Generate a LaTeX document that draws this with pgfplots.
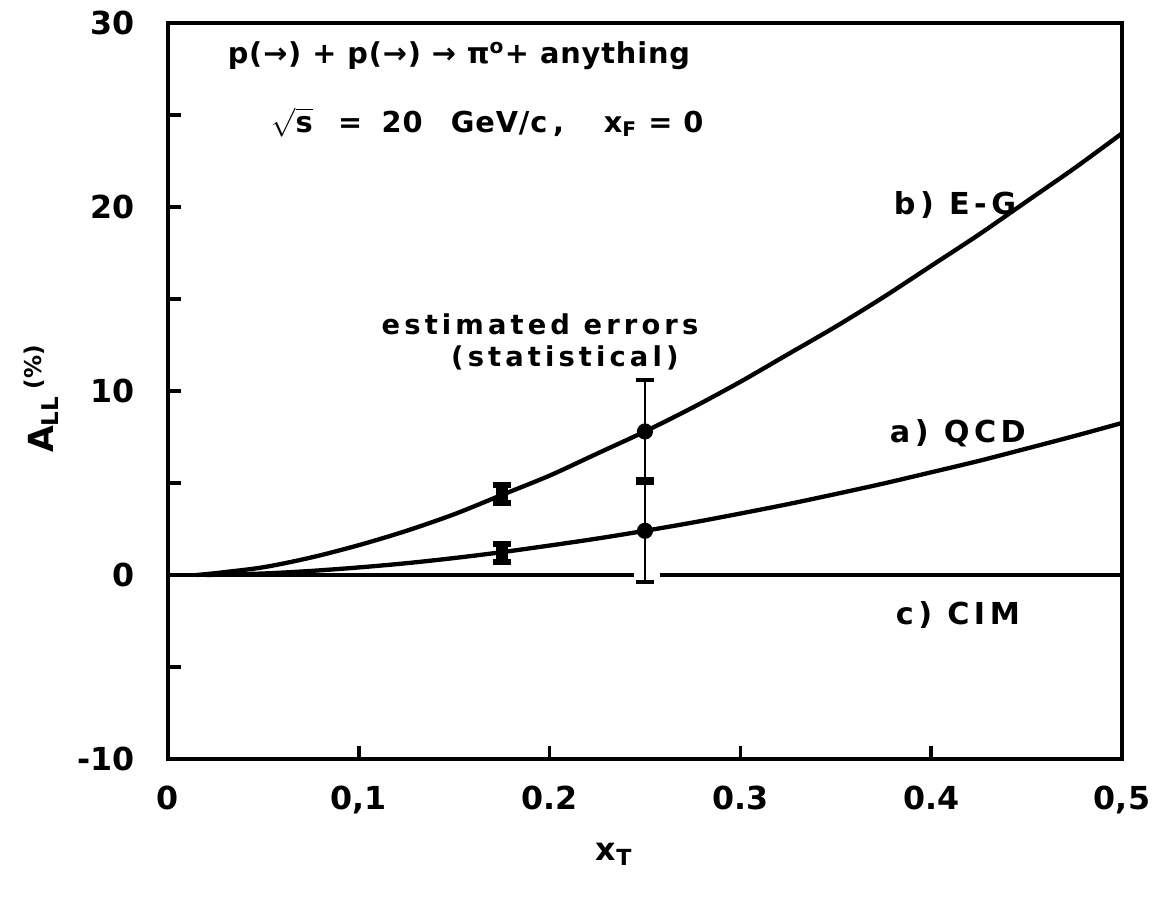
\documentclass[border=0pt]{standalone}
\usepackage{fontspec}
\setmainfont{DejaVu Sans}
\newfontfamily\lbl[LetterSpace=15]{DejaVu Sans}
\newfontfamily\lbltight[LetterSpace=3]{DejaVu Sans}
\usepackage{pgfplots}
\pgfplotsset{compat=1.18}

\begin{document}
\begin{tikzpicture}
\begin{axis}[
    scale only axis,
    width=331.25pt, height=255.56pt,
    xmin=0, xmax=0.5,
    ymin=-10, ymax=30,
    axis line style={line width=1.6pt},
    xtick={0,0.1,0.2,0.3,0.4,0.5},
    xticklabels={0,{0,1},0.2,0.3,0.4,{0,5}},
    ytick={-10,-5,0,5,10,15,20,25,30},
    yticklabels={-10,,0,,10,,20,,30},
    tick align=inside,
    xtick pos=bottom, ytick pos=left,
    major tick length=4.5pt,
    tick style={line width=1.2pt, black},
    ticklabel style={font=\bfseries\fontsize{11}{13}\selectfont},
    xticklabel style={yshift=-6pt},
    yticklabel style={xshift=-8pt},
    clip=false,
]

% b) E-G
\addplot[line width=1.5pt, smooth] coordinates {
  (0.015,0)(0.025,0.1)(0.05,0.42)(0.075,0.95)(0.1,1.62)(0.125,2.4)
  (0.15,3.3)(0.175,4.35)(0.2,5.4)(0.225,6.6)(0.25,7.8)(0.275,9.1)
  (0.3,10.5)(0.325,12.0)(0.35,13.5)(0.375,15.1)(0.4,16.8)(0.425,18.5)
  (0.45,20.3)(0.475,22.1)(0.5,24.0)
};

% a) QCD
\addplot[line width=1.5pt, smooth] coordinates {
  (0.02,0)(0.05,0.08)(0.075,0.22)(0.1,0.41)(0.125,0.64)(0.15,0.92)
  (0.175,1.24)(0.2,1.6)(0.225,1.98)(0.25,2.4)(0.275,2.85)(0.3,3.34)
  (0.325,3.85)(0.35,4.4)(0.375,4.97)(0.4,5.58)(0.425,6.2)(0.45,6.87)
  (0.475,7.55)(0.5,8.26)
};

% c) CIM
\addplot[line width=1.5pt] coordinates {(0,0)(0.244,0)};
\addplot[line width=1.5pt] coordinates {(0.258,0)(0.5,0)};

% estimated errors
\addplot[only marks, mark=*, mark size=2.6pt,
  error bars/.cd, y dir=both, y explicit,
  error bar style={line width=1pt},
  error mark options={rotate=90, mark size=3.2pt, line width=1.5pt}]
  coordinates {(0.25,7.8) +- (0,2.8) (0.25,2.4) +- (0,2.8)};

\addplot[only marks, mark=square*, mark size=2pt,
  error bars/.cd, y dir=both, y explicit,
  error bar style={line width=3pt},
  error mark options={rotate=90, mark size=3pt, line width=2pt}]
  coordinates {(0.175,4.4) +- (0,0.5) (0.175,1.2) +- (0,0.5)};

\node[anchor=west, font=\lbltight\bfseries\fontsize{10}{12}\selectfont] at (axis cs:0.026,28.2)
  {p(→) + p(→) → π\textsuperscript{o}+ anything};
\node[anchor=west, font=\lbltight\bfseries\fontsize{10}{12}\selectfont] at (axis cs:0.049,24.6)
  {$\sqrt{\mbox{s}}$\hspace{5pt} =\hspace{3pt} 20\hspace{6pt} GeV/c\hspace{2pt},\hspace{10pt} x\textsubscript{F} = 0};
\node[font=\lbl\bfseries\fontsize{10.5}{13}\selectfont] at (axis cs:0.4125,20.1) {b) E-G};
\node[font=\lbl\bfseries\fontsize{9.5}{11}\selectfont] at (axis cs:0.195,13.6) {estimated errors};
\node[font=\lbl\bfseries\fontsize{9.5}{11}\selectfont] at (axis cs:0.208,11.8) {(statistical)};
\node[font=\lbl\bfseries\fontsize{10.5}{13}\selectfont] at (axis cs:0.414,7.7) {a) QCD};
\node[font=\lbl\bfseries\fontsize{10.5}{13}\selectfont] at (axis cs:0.414,-2.2) {c) CIM};

\node[rotate=90, font=\bfseries\fontsize{12}{14}\selectfont] at ([xshift=-44pt]rel axis cs:0,0.49)
  {A\textsubscript{LL}\,\textsuperscript{(\%)}};
\node[font=\bfseries\fontsize{11}{13}\selectfont] at ([yshift=-33pt]rel axis cs:0.468,0)
  {x\textsubscript{T}};
\end{axis}
\pgfresetboundingbox
\path[use as bounding box] (-58.33pt,-48.61pt) rectangle (341.67pt,263.54pt);
\end{tikzpicture}
\end{document}
